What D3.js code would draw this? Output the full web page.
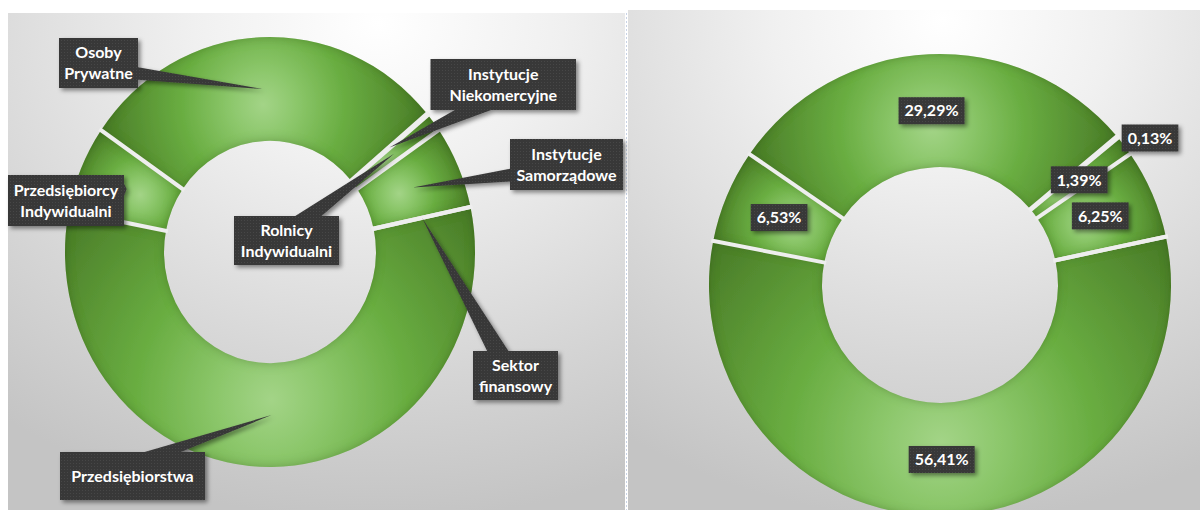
<!DOCTYPE html>
<html><head><meta charset="utf-8">
<script src="https://cdn.jsdelivr.net/npm/d3@7"></script>
<style>html,body{margin:0;padding:0;background:#fff;} svg{display:block;}</style>
</head><body>
<svg id="chart" width="1200" height="510"></svg>
<script>
// ---------- DATA ----------
const categories = ["Osoby Prywatne", "Instytucje Niekomercyjne", "Rolnicy Indywidualni",
  "Instytucje Samorządowe", "Sektor finansowy", "Przedsiębiorstwa", "Przedsiębiorcy Indywidualni"];
const labelLines = [["Osoby", "Prywatne"], ["Instytucje", "Niekomercyjne"], ["Rolnicy", "Indywidualni"],
  ["Instytucje", "Samorządowe"], ["Sektor", "finansowy"], ["Przedsiębiorstwa"], ["Przedsiębiorcy", "Indywidualni"]];
const values = [29.29, 0.13, 1.39, 6.25, 0.00, 56.41, 6.53];
const valueLabels = values.map(v => v > 0 ? d3.format(".2f")(v).replace(".", ",") + "%" : "");

// ---------- LAYOUT ----------
const startDeg = -55.5;
const leftChart = {cx: 270, cy: 252, rOut: 205, rIn: 106, sy: 1.049};
const rightChart = {cx: 940, cy: 285, rOut: 231, rIn: 118, sy: 1};
// callout boxes (offset of box centre from chart centre, box size)
const calloutLayout = [
  {dx: -171.5, dy: -189, w: 79, h: 50},
  {dx: 233.25, dy: -167.5, w: 145.5, h: 51},
  {dx: 16.5, dy: -11.5, w: 105, h: 49},
  {dx: 296.5, dy: -87.5, w: 113, h: 51},
  {dx: 245.5, dy: 123.5, w: 85, h: 49},
  {dx: -137.5, dy: 224, w: 145, h: 48},
  {dx: -204, dy: -51.5, w: 116, h: 51}
];
const valueLabelOverride = {1: [210, -147]};
const font = "Lato, 'Open Sans', 'DejaVu Sans', sans-serif";

const svg = d3.select("#chart");
const defs = svg.append("defs");

// panel gradients
function panelGrad(id, cx) {
  const g = defs.append("radialGradient").attr("id", id)
    .attr("cx", cx).attr("cy", 0.02).attr("r", 1.0).attr("fx", cx).attr("fy", 0.02);
  [[0, "#ffffff"], [0.3, "#f0f0f0"], [0.7, "#d6d6d6"], [1, "#c4c4c4"]].forEach(([o, c]) =>
    g.append("stop").attr("offset", o).attr("stop-color", c));
}
panelGrad("panelL", 0.6);
panelGrad("panelR", 0.55);

// box texture
const pat = defs.append("pattern").attr("id", "boxPat").attr("patternUnits", "userSpaceOnUse")
  .attr("width", 3).attr("height", 3);
pat.append("rect").attr("width", 3).attr("height", 3).attr("fill", "#393939");
pat.append("rect").attr("x", 1).attr("y", 1).attr("width", 1).attr("height", 1).attr("fill", "#464646");

// drop shadow
const sh = defs.append("filter").attr("id", "shadow").attr("x", "-20%").attr("y", "-20%")
  .attr("width", "150%").attr("height", "160%");
sh.append("feDropShadow").attr("dx", 2.5).attr("dy", 2.5).attr("stdDeviation", 2)
  .attr("flood-color", "#000").attr("flood-opacity", 0.45);

// inset shadow for slices
const ins = defs.append("filter").attr("id", "inset").attr("filterUnits", "userSpaceOnUse")
  .attr("x", -320).attr("y", -320).attr("width", 640).attr("height", 640);
ins.append("feComponentTransfer").attr("in", "SourceAlpha").attr("result", "inv")
  .append("feFuncA").attr("type", "table").attr("tableValues", "1 0");
ins.append("feGaussianBlur").attr("in", "inv").attr("stdDeviation", 5).attr("result", "blur");
ins.append("feFlood").attr("flood-color", "#2a5513").attr("flood-opacity", 0.5).attr("result", "col");
ins.append("feComposite").attr("in", "col").attr("in2", "blur").attr("operator", "in").attr("result", "sh");
ins.append("feComposite").attr("in", "sh").attr("in2", "SourceAlpha").attr("operator", "in").attr("result", "insh");
const mg = ins.append("feMerge");
mg.append("feMergeNode").attr("in", "SourceGraphic");
mg.append("feMergeNode").attr("in", "insh");

// panels
svg.append("rect").attr("x", 8).attr("y", 13).attr("width", 617).attr("height", 497).attr("fill", "url(#panelL)");
svg.append("rect").attr("x", 628).attr("y", 10).attr("width", 572).attr("height", 500).attr("fill", "url(#panelR)");
svg.append("line").attr("x1", 626.5).attr("x2", 626.5).attr("y1", 13).attr("y2", 510)
  .attr("stroke", "#c9d3e6").attr("stroke-width", 1).attr("stroke-dasharray", "2,2");

const pie = d3.pie().sort(null).value(d => d)
  .startAngle(startDeg * Math.PI / 180).endAngle(startDeg * Math.PI / 180 + 2 * Math.PI);
const arcsData = pie(values);

function drawDonut(conf, prefix) {
  const arc = d3.arc().innerRadius(conf.rIn).outerRadius(conf.rOut);
  const g = svg.append("g").attr("transform", `translate(${conf.cx},${conf.cy}) scale(1,${conf.sy})`);
  arcsData.forEach((d, i) => {
    const mid = (d.startAngle + d.endAngle) / 2;
    const rc = conf.rIn + 0.35 * (conf.rOut - conf.rIn);
    const gx = rc * Math.sin(mid), gy = -rc * Math.cos(mid);
    let maxD = 20;
    for (let k = 0; k <= 30; k++) {
      const a = d.startAngle + (d.endAngle - d.startAngle) * k / 30;
      [conf.rIn, conf.rOut].forEach(r => {
        maxD = Math.max(maxD, Math.hypot(r * Math.sin(a) - gx, -r * Math.cos(a) - gy));
      });
    }
    const grad = defs.append("radialGradient").attr("id", `${prefix}g${i}`)
      .attr("gradientUnits", "userSpaceOnUse").attr("cx", gx).attr("cy", gy).attr("r", maxD);
    [[0, "#a3d487"], [0.2, "#8cc76b"], [0.5, "#69ad41"], [0.8, "#568f31"], [1, "#487a28"]].forEach(([o, c]) =>
      grad.append("stop").attr("offset", o).attr("stop-color", c));
  });
  g.selectAll("path.slice").data(arcsData).join("path").attr("class", "slice")
    .attr("d", arc).attr("fill", (d, i) => `url(#${prefix}g${i})`).attr("filter", "url(#inset)");
  g.selectAll("line.sep").data(arcsData).join("line").attr("class", "sep")
    .attr("x1", d => (conf.rIn - 2) * Math.sin(d.startAngle))
    .attr("y1", d => -(conf.rIn - 2) * Math.cos(d.startAngle))
    .attr("x2", d => (conf.rOut + 2) * Math.sin(d.startAngle))
    .attr("y2", d => -(conf.rOut + 2) * Math.cos(d.startAngle))
    .attr("stroke", "#eeeeee").attr("stroke-width", 4);
  return arc;
}

function calloutPath(x, y, w, h, tx, ty) {
  const dxPos = tx - (x + w / 2), dyPos = ty - (y + h / 2);
  if (tx >= x && tx <= x + w && ty >= y && ty <= y + h) {
    return `M${x},${y}H${x + w}V${y + h}H${x}Z`;
  }
  const dq = dxPos * h / w;
  const vert = Math.abs(dyPos) > Math.abs(dq);
  const xg1 = dxPos > 0 ? x + 7 * w / 12 : x + 2 * w / 12;
  const xg2 = dxPos > 0 ? x + 10 * w / 12 : x + 5 * w / 12;
  const yg1 = dyPos > 0 ? y + 7 * h / 12 : y + 2 * h / 12;
  const yg2 = dyPos > 0 ? y + 10 * h / 12 : y + 5 * h / 12;
  let p = `M${x},${y}`;
  if (vert && dyPos < 0) p += `L${xg1},${y}L${tx},${ty}L${xg2},${y}`;
  p += `L${x + w},${y}`;
  if (!vert && dxPos > 0) p += `L${x + w},${yg1}L${tx},${ty}L${x + w},${yg2}`;
  p += `L${x + w},${y + h}`;
  if (vert && dyPos > 0) p += `L${xg2},${y + h}L${tx},${ty}L${xg1},${y + h}`;
  p += `L${x},${y + h}`;
  if (!vert && dxPos < 0) p += `L${x},${yg2}L${tx},${ty}L${x},${yg1}`;
  return p + "Z";
}

// LEFT donut with category callouts
const arcL = drawDonut(leftChart, "L");
const calloutG = svg.append("g");
arcsData.forEach((d, i) => {
  const lay = calloutLayout[i];
  const c = arcL.centroid(d);
  const tx = leftChart.cx + c[0], ty = leftChart.cy + c[1] * leftChart.sy;
  const bx = leftChart.cx + lay.dx - lay.w / 2, by = leftChart.cy + lay.dy - lay.h / 2;
  const g = calloutG.append("g");
  g.append("path").attr("d", calloutPath(bx, by, lay.w, lay.h, tx, ty))
    .attr("fill", "url(#boxPat)").attr("filter", "url(#shadow)");
  const lines = labelLines[i];
  const fs = 16, lh = 21;
  lines.forEach((t, k) => {
    g.append("text").attr("x", bx + lay.w / 2)
      .attr("y", by + lay.h / 2 + (k - (lines.length - 1) / 2) * lh + 0.36 * fs)
      .attr("text-anchor", "middle").attr("fill", "#ffffff")
      .attr("font-family", font).attr("font-weight", "bold").attr("font-size", fs).text(t);
  });
});

// RIGHT donut with value labels
const arcR = drawDonut(rightChart, "R");
const valG = svg.append("g");
arcsData.forEach((d, i) => {
  if (!valueLabels[i]) return;
  const c = valueLabelOverride[i] || arcR.centroid(d);
  const x = rightChart.cx + c[0], y = rightChart.cy + c[1];
  const g = valG.append("g");
  const rect = g.append("rect").attr("fill", "url(#boxPat)").attr("filter", "url(#shadow)");
  const fs = 16;
  const t = g.append("text").attr("x", x).attr("y", y + 0.36 * fs).attr("text-anchor", "middle")
    .attr("fill", "#ffffff").attr("font-family", font).attr("font-weight", "bold")
    .attr("font-size", fs).text(valueLabels[i]);
  const tw = t.node().getComputedTextLength();
  const bw = tw + 12, bh = 27;
  rect.attr("x", x - bw / 2).attr("y", y - bh / 2).attr("width", bw).attr("height", bh);
});
</script>
</body></html>
